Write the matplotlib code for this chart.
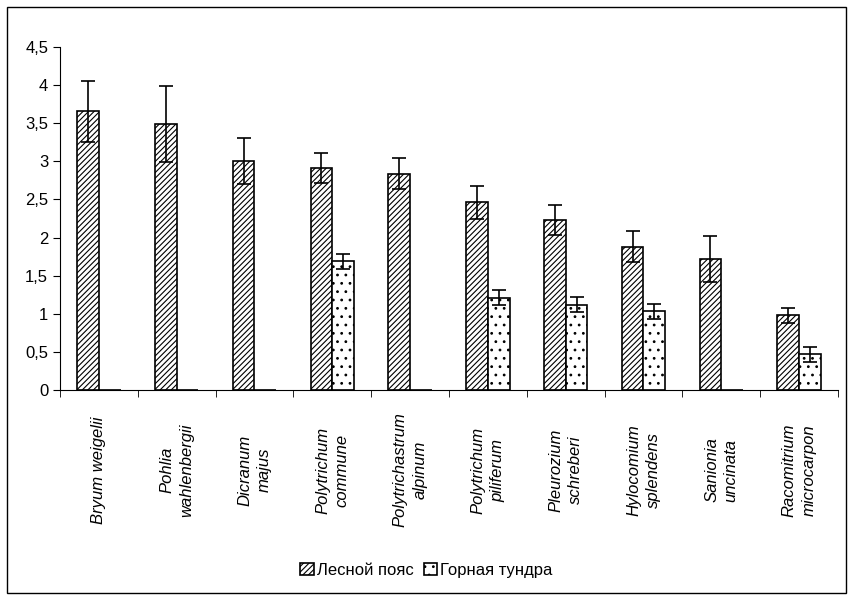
import matplotlib
matplotlib.use("Agg")
import matplotlib.pyplot as plt
import matplotlib.transforms as mtransforms
import numpy as np

plt.rcParams['font.family'] = ['Liberation Sans', 'DejaVu Sans']
plt.rcParams['hatch.linewidth'] = 0.8

species = ["Bryum weigelii", "Pohlia\nwahlenbergii", "Dicranum\nmajus", "Polytrichum\ncommune",
           "Polytrichastrum\nalpinum", "Polytrichum\npiliferum", "Pleurozium\nschreberi",
           "Hylocomium\nsplendens", "Sanionia\nuncinata", "Racomitrium\nmicrocarpon"]
forest = [3.66, 3.49, 3.0, 2.91, 2.84, 2.46, 2.23, 1.88, 1.72, 0.98]
forest_err = [0.4, 0.5, 0.3, 0.2, 0.2, 0.21, 0.2, 0.2, 0.3, 0.1]
tundra = [0, 0, 0, 1.69, 0, 1.21, 1.12, 1.03, 0, 0.47]
tundra_err = [0, 0, 0, 0.1, 0, 0.1, 0.1, 0.1, 0, 0.1]
yticks = [0, 0.5, 1, 1.5, 2, 2.5, 3, 3.5, 4, 4.5]
ylabels = ["0", "0,5", "1", "1,5", "2", "2,5", "3", "3,5", "4", "4,5"]

fig = plt.figure(figsize=(8.53, 6.0), dpi=100)
fig.patches.append(plt.Rectangle((0.008, 0.012), 0.984, 0.976, transform=fig.transFigure,
                                 fill=False, edgecolor='black', lw=1))
ax = fig.add_axes([60/853, 1-390/600, 778/853, 343/600])
x = np.arange(len(species))
w = 0.28
ax.bar(x - w/2, forest, w, color='white', edgecolor='black', hatch='//////', lw=1.2,
       yerr=forest_err, error_kw=dict(ecolor='black', capsize=5, elinewidth=1.2, capthick=1.2),
       label='Лесной пояс')
tv = [t if t > 0 else np.nan for t in tundra]
ax.bar(x + w/2, tundra, w, color='white', edgecolor='black', hatch='..', lw=1.2,
       label='Горная тундра')
ax.errorbar(x + w/2, tv, yerr=tundra_err, fmt='none', ecolor='black', capsize=5, elinewidth=1.2, capthick=1.2)
ax.set_xlim(-0.5, len(species) - 0.5)
ax.set_ylim(0, 4.5)
ax.set_yticks(yticks)
ax.set_yticklabels(ylabels, fontsize=12)
ax.set_xticks(np.arange(len(species) + 1) - 0.5, minor=True)
ax.set_xticks(x)
ax.set_xticklabels([])
trans = mtransforms.blended_transform_factory(ax.transData, fig.transFigure)
ycen = 1 - 470/600
for xi, name in zip(x, species):
    lines = name.split("\n")
    n = len(lines)
    for j, ln in enumerate(lines):
        off = mtransforms.ScaledTranslation((j - (n - 1) / 2) * 14 / 72, 0, fig.dpi_scale_trans)
        ax.text(xi, ycen, ln, rotation=90, fontsize=12, style='italic', va='center', ha='center',
                transform=trans + off)
ax.tick_params(axis='x', which='major', length=0)
ax.tick_params(axis='x', which='minor', length=5, direction='out')
ax.tick_params(axis='y', length=5, direction='out')
for s in ['top', 'right']:
    ax.spines[s].set_visible(False)
ax.legend(loc='lower center', ncol=2, frameon=False,
          fontsize=12, handlelength=0.8, handleheight=0.8, handletextpad=0.2, columnspacing=0.6,
          bbox_to_anchor=(0.5, 0.012), bbox_transform=fig.transFigure)
fig.savefig("out.png", dpi=100)
